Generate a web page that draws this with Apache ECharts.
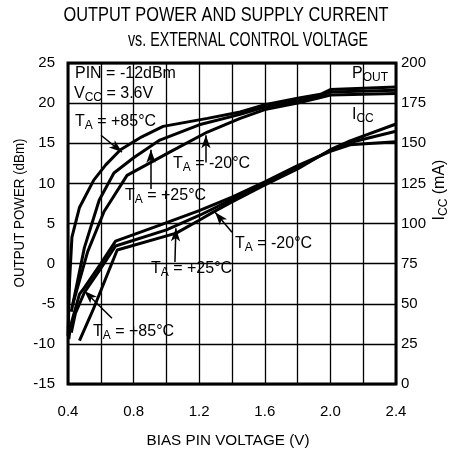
<!DOCTYPE html>
<html>
<head>
<meta charset="utf-8">
<script src="https://cdn.jsdelivr.net/npm/echarts/dist/echarts.min.js"></script>
<style>
  html, body { margin: 0; padding: 0; background: #fff; }
  #c { width: 451px; height: 453px; }
</style>
</head>
<body>
<div id="c"></div>
<script>
// ---------------- DATA ----------------
const xRange = [0.4, 2.4];      // BIAS PIN VOLTAGE (V)
const poutRange = [-15, 25];    // OUTPUT POWER (dBm)
const iccRange = [0, 200];      // ICC (mA)

// Output power curves (V, dBm)
const pout85V = [0.40, 0.41, 0.424, 0.47, 0.557, 0.63, 0.72, 0.85, 0.98, 1.25, 1.45, 1.60, 1.80, 1.94, 2.00, 2.40];
const pout85  = [-9.0, -2.0, 3.3, 7.0, 10.4, 12.3, 14.2, 15.8, 17.1, 18.1, 18.9, 19.8, 20.6, 21.1, 21.7, 22.0];

const pout25V = [0.42, 0.50, 0.59, 0.68, 0.80, 0.96, 1.20, 1.45, 1.60, 1.80, 1.94, 2.00, 2.40];
const pout25  = [-6.0, 2.0, 7.9, 11.3, 13.2, 15.4, 17.3, 18.6, 19.5, 20.3, 20.9, 21.4, 21.6];

const poutM20V = [0.43, 0.52, 0.62, 0.76, 1.02, 1.25, 1.45, 1.60, 1.80, 1.94, 2.00, 2.40];
const poutM20  = [-5.0, 1.5, 6.5, 11.0, 13.9, 16.4, 18.1, 19.2, 20.0, 20.7, 21.0, 21.2];

// Supply current curves (V, mA)
const icc85V = [0.405, 0.415, 0.47, 0.50, 0.60, 0.69, 0.96, 1.20, 1.40, 1.60, 1.80, 2.00, 2.12, 2.40];
const icc85  = [28, 36, 56, 60, 75, 89, 99, 108, 116.5, 126, 136, 145, 149, 151];

const icc25V = [0.42, 0.445, 0.50, 0.60, 0.69, 1.00, 1.20, 1.40, 1.60, 1.80, 2.00, 2.12, 2.40];
const icc25  = [32, 44, 57, 72, 86, 96, 105, 115, 125, 135, 145.5, 150.5, 157.5];

const iccM20V = [0.47, 0.55, 0.70, 1.06, 1.20, 1.29, 1.40, 1.60, 1.80, 2.00, 2.12, 2.40];
const iccM20  = [27, 45.5, 83.5, 94, 102, 107.4, 113.5, 124, 134, 146, 151.5, 162];

// Annotation arrows: [from, to] in data units
const poutArrows = [
  [[0.601, 16.0], [0.729, 13.9]],   // TA = +85°C
  [[1.241, 12.6], [1.241, 16.0]],   // TA = -20°C
  [[0.906, 9.3],  [0.906, 14.2]]    // TA = +25°C
];
const iccArrows = [
  [[1.052, 76],  [1.058, 97]],      // TA = +25°C
  [[1.40, 94.5], [1.297, 107]],     // TA = -20°C
  [[0.668, 41],  [0.50, 58]]        // TA = +85°C
];

// ---------------- RENDER ----------------
const F = "'Liberation Sans', Arial, Helvetica, sans-serif";
const pairs = (xs, ys) => xs.map((x, i) => [x, ys[i]]);

const mctx = document.createElement('canvas').getContext('2d');
function fitScale(text, size, target) {
  mctx.font = size + 'px ' + F;
  return target / mctx.measureText(text).width;
}

const rich = {
  n: { fontSize: 16, fontFamily: F, fill: '#000', color: '#000', lineHeight: 18, verticalAlign: 'top' },
  s: { fontSize: 12, fontFamily: F, fill: '#000', color: '#000', lineHeight: 12, verticalAlign: 'top', padding: [6, 0, 0, 0] }
};

function label(x, y, txt) {
  return {
    type: 'text', x: x, y: y, z: 100,
    style: { text: txt, rich: rich, fill: '#000', align: 'left', verticalAlign: 'top', textAlign: 'left', textVerticalAlign: 'top' }
  };
}
function plain(x, y, txt, size, target, rot) {
  const sc = fitScale(txt, size, target);
  return {
    type: 'text', x: x, y: y, z: 100, rotation: rot || 0, scaleX: sc,
    style: { text: txt, fontSize: size, fontFamily: F, fill: '#000', align: 'center', verticalAlign: 'middle', textAlign: 'center', textVerticalAlign: 'middle' }
  };
}

const lineStyle = { color: '#000', width: 3 };
function curve(name, xs, ys, yAxisIndex) {
  return {
    name: name, type: 'line', yAxisIndex: yAxisIndex, data: pairs(xs, ys),
    showSymbol: false, symbol: 'none', lineStyle: lineStyle, itemStyle: { color: '#000' },
    silent: true, animation: false, z: 5
  };
}
function arrowMark(list) {
  return {
    silent: true, symbol: ['none', 'arrow'], symbolSize: [7, 13], animation: false,
    lineStyle: { color: '#000', width: 1.5, type: 'solid' },
    label: { show: false }, emphasis: { disabled: true },
    data: list.map(a => [{ coord: a[0] }, { coord: a[1] }])
  };
}

const s1 = curve('POUT +85', pout85V, pout85, 0);
s1.markLine = arrowMark(poutArrows);
const s4 = curve('ICC +85', icc85V, icc85, 1);
s4.markLine = arrowMark(iccArrows);

const chart = echarts.init(document.getElementById('c'), null, { renderer: 'canvas' });
chart.setOption({
  animation: false,
  backgroundColor: '#fff',
  grid: { left: 68, right: 55, top: 63, bottom: 69, show: true, borderColor: '#000', borderWidth: 3, backgroundColor: 'transparent' },
  xAxis: {
    type: 'value', min: xRange[0], max: xRange[1], interval: 0.2,
    axisLine: { show: false }, axisTick: { show: false },
    splitLine: { show: true, lineStyle: { color: '#000', width: 1.3 } },
    axisLabel: {
      color: '#000', fontSize: 15, fontFamily: F, margin: 20,
      formatter: v => { const r = Math.round(v * 10); return r % 4 === 0 ? (r / 10).toFixed(1) : ''; }
    }
  },
  yAxis: [
    {
      type: 'value', min: poutRange[0], max: poutRange[1], interval: 5, position: 'left',
      axisLine: { show: false }, axisTick: { show: false },
      splitLine: { show: true, lineStyle: { color: '#000', width: 1.3 } },
      axisLabel: { color: '#000', fontSize: 15, fontFamily: F, margin: 13 }
    },
    {
      type: 'value', min: iccRange[0], max: iccRange[1], interval: 25, position: 'right',
      axisLine: { show: false }, axisTick: { show: false }, splitLine: { show: false },
      axisLabel: { color: '#000', fontSize: 15, fontFamily: F, margin: 5 }
    }
  ],
  series: [
    s1,
    curve('POUT +25', pout25V, pout25, 0),
    curve('POUT -20', poutM20V, poutM20, 0),
    s4,
    curve('ICC +25', icc25V, icc25, 1),
    curve('ICC -20', iccM20V, iccM20, 1)
  ],
  graphic: [
    plain(226, 15, 'OUTPUT POWER AND SUPPLY CURRENT', 20, 325),
    plain(248, 40, 'vs. EXTERNAL CONTROL VOLTAGE', 20, 240),
    plain(228, 441, 'BIAS PIN VOLTAGE (V)', 15, 163),
    plain(20, 213, 'OUTPUT POWER (dBm)', 14, 149, Math.PI / 2),
    {
      type: 'text', x: 441, y: 190, z: 100, rotation: Math.PI / 2,
      style: { text: '{n|I}{s|CC}{n| (mA)}', rich: rich, fill: '#000', align: 'center', verticalAlign: 'middle', textAlign: 'center', textVerticalAlign: 'middle' }
    },
    label(75, 66, '{n|PIN = -12dBm}'),
    label(74, 86, '{n|V}{s|CC}{n| = 3.6V}'),
    label(75, 114, '{n|T}{s|A}{n| = +85°C}'),
    label(173, 156, '{n|T}{s|A}{n| = -20°C}'),
    label(125, 188, '{n|T}{s|A}{n| = +25°C}'),
    label(151, 261, '{n|T}{s|A}{n| = +25°C}'),
    label(235, 236, '{n|T}{s|A}{n| = -20°C}'),
    label(93, 324, '{n|T}{s|A}{n| = +85°C}'),
    label(352, 66, '{n|P}{s|OUT}'),
    label(352, 107, '{n|I}{s|CC}')
  ]
});
</script>
</body>
</html>
